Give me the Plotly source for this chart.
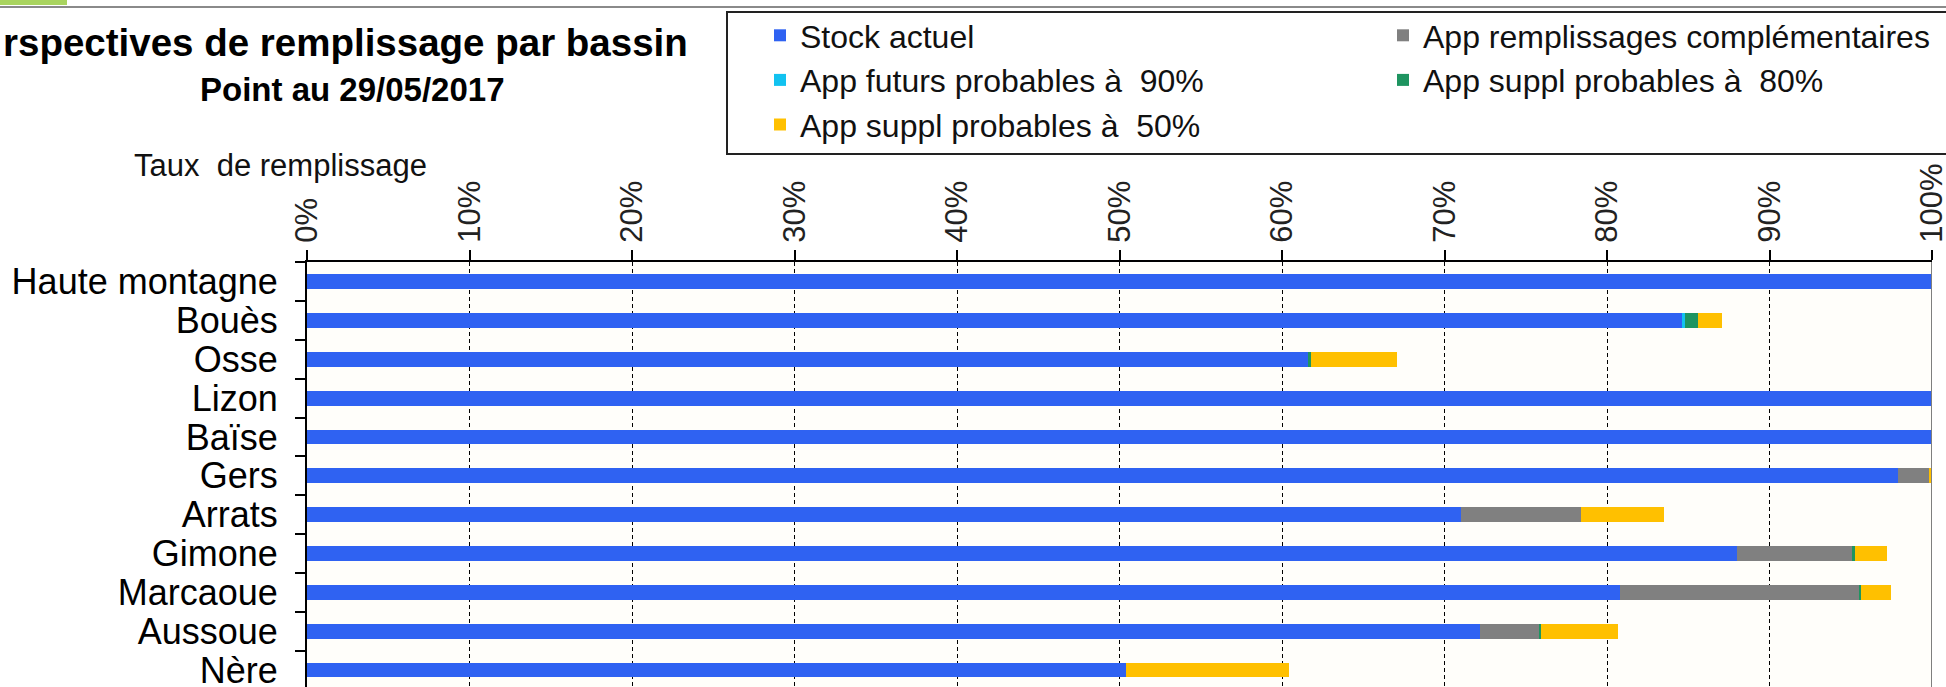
import plotly.graph_objects as go

# Basins, top to bottom
categories = ["Haute montagne", "Bouès", "Osse", "Lizon", "Baïse", "Gers",
              "Arrats", "Gimone", "Marcaoue", "Aussoue", "Nère"]

# Filling rate components (% of capacity)
stock_actuel = [100, 84.6, 61.6, 100, 100, 97.9, 71.0, 88.0, 80.8, 72.2, 50.4]
app_complementaires = [0, 0, 0, 0, 0, 1.9, 7.4, 7.1, 14.7, 3.6, 0]
app_futurs_90 = [0, 0.2, 0, 0, 0, 0, 0, 0, 0, 0, 0]
app_suppl_80 = [0, 0.8, 0.2, 0, 0, 0, 0, 0.15, 0.15, 0.15, 0]
app_suppl_50 = [0, 1.5, 5.3, 0, 0, 0.2, 5.1, 2.0, 1.85, 4.75, 10.0]

series = [
    ("Stock actuel", stock_actuel, "#2F62F2"),
    ("App remplissages complémentaires", app_complementaires, "#808080"),
    ("App futurs probables à  90%", app_futurs_90, "#12C2F0"),
    ("App suppl probables à  80%", app_suppl_80, "#1E9460"),
    ("App suppl probables à  50%", app_suppl_50, "#FFC000"),
]

x_ticks = list(range(0, 101, 10))
x_ticktext = [f"{v}%" for v in x_ticks]

W, H = 1946, 687
ML, MR, MT, MB = 307, 14, 262, 0
PW, PH = W - ML - MR, H - MT - MB

FONT = "Arial, Liberation Sans, sans-serif"


def px_x(p):
    return (p - ML) / PW


def px_y(p):
    return 1 + (MT - p) / PH


fig = go.Figure()
for name, vals, color in series:
    fig.add_trace(go.Bar(
        y=categories, x=vals, name=name, orientation="h",
        marker=dict(color=color, line=dict(width=0)),
        width=0.38,
    ))

fig.update_layout(
    width=W, height=H, autosize=False,
    margin=dict(l=ML, r=MR, t=MT, b=MB, pad=0, autoexpand=False),
    barmode="stack",
    paper_bgcolor="white",
    plot_bgcolor="#FFFEFA",
    font=dict(family=FONT, color="black"),
    showlegend=True,
    legend=dict(
        orientation="h",
        x=px_x(760), xanchor="left",
        y=px_y(8), yanchor="top",
        font=dict(family=FONT, size=32, color="#111"),
        bgcolor="rgba(0,0,0,0)",
        borderwidth=0,
        entrywidth=578, entrywidthmode="pixels",
        traceorder="normal",
    ),
)

fig.update_xaxes(
    side="top", range=[0, 100],
    tickmode="array", tickvals=x_ticks, ticktext=x_ticktext,
    tickangle=-90, tickfont=dict(family=FONT, size=31, color="#222"),
    ticks="outside", ticklen=10, tickwidth=1.5, tickcolor="black",
    ticklabelstandoff=1, ticklabeloverflow="allow",
    showline=True, linecolor="black", linewidth=2,
    showgrid=True, gridcolor="black", gridwidth=1, griddash="4px,3px",
    zeroline=False, fixedrange=True,
)

fig.update_yaxes(
    type="category", categoryorder="array", categoryarray=categories,
    tickmode="array", tickvals=categories,
    range=[10.437, -0.507],
    tickfont=dict(family=FONT, size=36, color="black"),
    ticks="outside", ticklen=10, tickwidth=1.5, tickcolor="black",
    tickson="boundaries", ticklabelstandoff=20,
    showline=True, linecolor="black", linewidth=2,
    showgrid=False, zeroline=False, fixedrange=True,
)

# right edge of the scale at 100 %
fig.add_shape(type="line", xref="x", yref="paper", x0=100, x1=100, y0=0, y1=1,
              line=dict(color="#7F7F7F", width=2))

# legend frame, running off the right edge
fig.add_shape(type="rect", xref="paper", yref="paper",
              x0=px_x(727), x1=px_x(1990), y0=px_y(154), y1=px_y(12),
              line=dict(color="#222", width=2), fillcolor="rgba(0,0,0,0)", layer="below")

# slide header strip
fig.add_shape(type="line", xref="paper", yref="paper",
              x0=px_x(0), x1=px_x(W), y0=px_y(7), y1=px_y(7),
              line=dict(color="#8A8A8A", width=2))
fig.add_shape(type="rect", xref="paper", yref="paper",
              x0=px_x(0), x1=px_x(67), y0=px_y(5), y1=px_y(-2),
              line=dict(width=0), fillcolor="#A9D45F")

# chart title (two lines)
fig.add_annotation(text="<b>rspectives de remplissage par bassin</b>",
                   xref="paper", yref="paper", x=px_x(690), y=px_y(42),
                   xanchor="right", yanchor="middle", showarrow=False,
                   font=dict(family=FONT, size=38.5, color="black"))
fig.add_annotation(text="<b>Point au 29/05/2017</b>",
                   xref="paper", yref="paper", x=px_x(352), y=px_y(90),
                   xanchor="center", yanchor="middle", showarrow=False,
                   font=dict(family=FONT, size=33, color="black"))

# axis title
fig.add_annotation(text="Taux\u00a0 de remplissage",
                   xref="paper", yref="paper", x=px_x(280), y=px_y(165),
                   xanchor="center", yanchor="middle", showarrow=False,
                   font=dict(family=FONT, size=31, color="#111"))

fig.write_html("out.html")
